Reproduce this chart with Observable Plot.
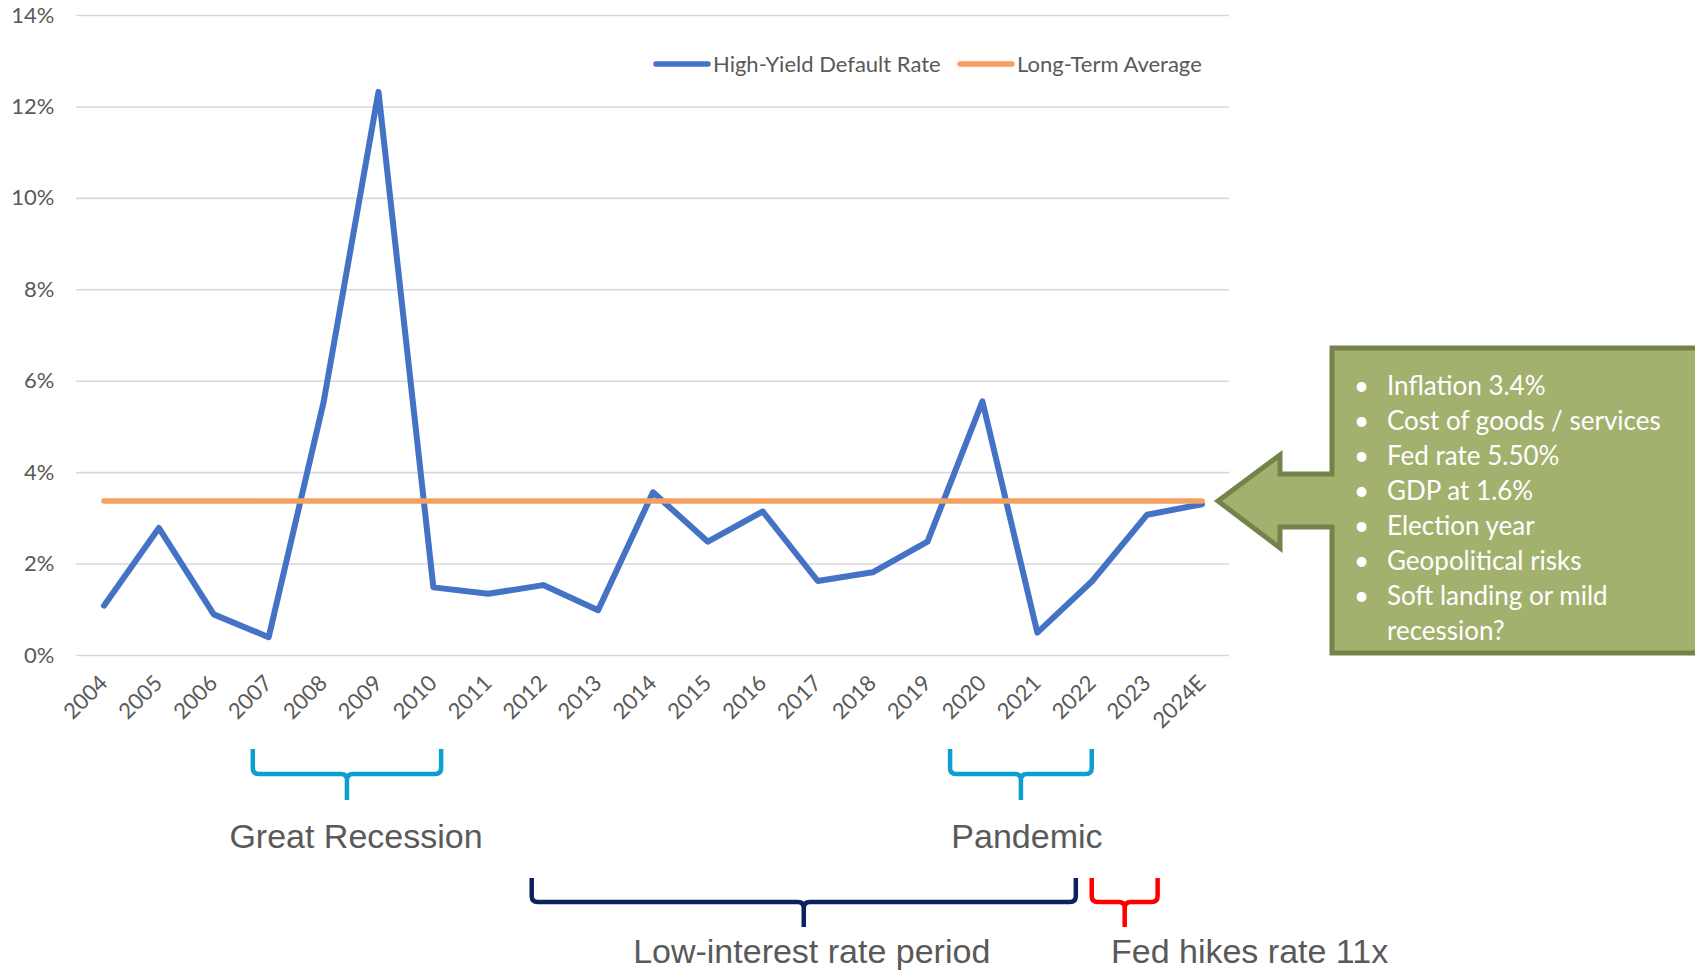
<!DOCTYPE html>
<html>
<head>
<meta charset="utf-8">
<script src="https://cdn.jsdelivr.net/npm/d3@7"></script>
<script src="https://cdn.jsdelivr.net/npm/@observablehq/plot@0.6"></script>
<style>
  html, body { margin: 0; padding: 0; background: #fff; }
  #chart svg { display: block; overflow: visible; }
</style>
</head>
<body>
<div id="chart"></div>
<script>
// ---- data ----
const years = ["2004","2005","2006","2007","2008","2009","2010","2011","2012","2013","2014",
               "2015","2016","2017","2018","2019","2020","2021","2022","2023","2024E"];
const defaultRate = [1.09, 2.79, 0.90, 0.40, 5.54, 12.33, 1.49, 1.35, 1.54, 0.99, 3.57,
                     2.49, 3.15, 1.63, 1.82, 2.49, 5.56, 0.50, 1.63, 3.08, 3.31];
const longTermAverage = 3.38;
const yTicks = [0, 2, 4, 6, 8, 10, 12, 14];
const seriesNames = ["High-Yield Default Rate", "Long-Term Average"];
const seriesColors = ["#4472C4", "#F4A060"];

const calloutLines = ["Inflation 3.4%", "Cost of goods / services", "Fed rate 5.50%", "GDP at 1.6%",
                      "Election year", "Geopolitical risks", "Soft landing or mild", "recession?"];
const calloutBullets = [true, true, true, true, true, true, true, false];

// brace annotations (positions in year-index units along the x axis)
const braceLabels = ["Great Recession", "Pandemic", "Low-interest rate period", "Fed hikes rate 11x"];
const braceStart  = [2.72, 15.42, 7.80, 18.00];
const braceEnd    = [6.15, 18.00, 17.71, 19.20];
const braceRow    = [0, 0, 1, 1];
const braceColors = ["#0E9FD0", "#0E9FD0", "#0B2260", "#FF0000"];
const labelPos    = [4.60, 16.82, 12.90, 18.35];
const labelAnchor = ["middle", "middle", "middle", "start"];

// ---- build ----
const rateData = years.map((y, i) => ({year: y, rate: defaultRate[i]}));
const avgData = years.map(y => ({year: y, rate: longTermAverage}));

const chart = Plot.plot({
  width: 1695,
  height: 971,
  marginLeft: 76,
  marginRight: 466,
  marginTop: 15,
  marginBottom: 316,
  style: {fontFamily: "Lato, 'Open Sans', sans-serif", fontSize: "22px", color: "#595959", background: "#fff"},
  x: {type: "point", domain: years, padding: 0.5, round: false},
  y: {domain: [0, 14]},
  marks: [
    Plot.gridY(yTicks, {stroke: "#D9D9D9", strokeOpacity: 1, strokeWidth: 1.6}),
    Plot.axisY(yTicks, {tickSize: 0, tickPadding: 22, tickFormat: d => d + "%", label: null, fill: "#595959", fontSize: 22}),
    Plot.axisX({tickSize: 0, tickPadding: 24, tickRotate: -45, label: null, fill: "#595959", fontSize: 22}),
    Plot.lineY(rateData, {x: "year", y: "rate", stroke: seriesColors[0], strokeWidth: 6,
                          strokeLinejoin: "round", strokeLinecap: "round"}),
    Plot.lineY(avgData, {x: "year", y: "rate", stroke: seriesColors[1], strokeWidth: 5.5,
                         strokeLinecap: "round"})
  ]
});
document.getElementById("chart").appendChild(chart);

const svg = d3.select(chart);
const xs = chart.scale("x");
const x0 = xs.apply(years[0]);
const step = xs.apply(years[1]) - x0;
const xAt = i => x0 + i * step;

// legend
const legend = svg.append("g").attr("font-family", "Lato, 'Open Sans', sans-serif").attr("font-size", 22)
  .attr("fill", "#595959").attr("text-anchor", "start");
const legendX = [656, 960];
seriesNames.forEach((name, i) => {
  legend.append("line").attr("x1", legendX[i]).attr("x2", legendX[i] + 52).attr("y1", 64).attr("y2", 64)
    .attr("stroke", seriesColors[i]).attr("stroke-width", 5.5).attr("stroke-linecap", "round");
  legend.append("text").attr("x", legendX[i] + 57).attr("y", 72).text(name);
});

// callout arrow box
const co = svg.append("g").attr("text-anchor", "start");
co.append("path")
  .attr("d", "M1332,348 L1712,348 L1712,653 L1332,653 L1332,527 L1280,527 L1280,548 L1218,501 L1280,455 L1280,474 L1332,474 Z")
  .attr("fill", "#A3B16F").attr("stroke", "#74834A").attr("stroke-width", 5).attr("stroke-linejoin", "miter");
calloutLines.forEach((t, i) => {
  const yb = 395 + i * 35;
  if (calloutBullets[i]) co.append("text").attr("x", 1354).attr("y", yb).attr("fill", "#fff")
    .attr("font-family", "Lato, 'Open Sans', sans-serif").attr("font-size", 26).text("•");
  co.append("text").attr("x", 1387).attr("y", yb).attr("fill", "#fff")
    .attr("font-family", "Lato, 'Open Sans', sans-serif").attr("font-size", 26).text(t);
});

// braces
const rows = [{top: 749, mid: 774, tip: 800, text: 848}, {top: 878, mid: 902, tip: 927, text: 963}];
const bg = svg.append("g");
braceLabels.forEach((lab, i) => {
  const r = rows[braceRow[i]];
  const xa = xAt(braceStart[i]), xb = xAt(braceEnd[i]), xc = (xa + xb) / 2;
  const k = 6;
  const d = `M${xa},${r.top} L${xa},${r.mid - k} Q${xa},${r.mid} ${xa + k},${r.mid} L${xc - k},${r.mid} Q${xc},${r.mid} ${xc},${r.mid + k} L${xc},${r.tip}` +
            ` M${xb},${r.top} L${xb},${r.mid - k} Q${xb},${r.mid} ${xb - k},${r.mid} L${xc + k},${r.mid} Q${xc},${r.mid} ${xc},${r.mid + k}`;
  bg.append("path").attr("d", d).attr("fill", "none").attr("stroke", braceColors[i]).attr("stroke-width", 4.5);
  bg.append("text").attr("x", xAt(labelPos[i])).attr("y", r.text).attr("text-anchor", labelAnchor[i])
    .attr("font-family", "'Liberation Sans Narrow', 'Liberation Sans', sans-serif").attr("font-size", 34)
    .attr("fill", "#595959").text(lab);
});
</script>
</body>
</html>
